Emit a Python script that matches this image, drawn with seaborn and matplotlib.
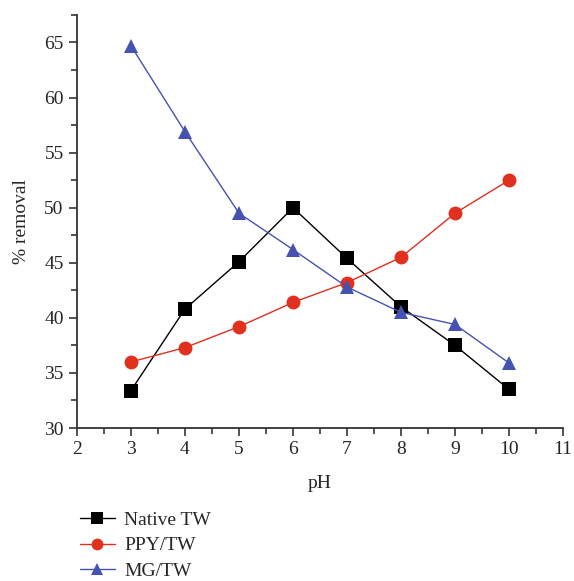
import matplotlib
matplotlib.use("Agg")
import matplotlib.pyplot as plt
from matplotlib.ticker import MultipleLocator
import seaborn as sns
import pandas as pd

# pH values and % removal for each adsorbent
ph = [3, 4, 5, 6, 7, 8, 9, 10]
native_tw = [33.4, 40.8, 45.1, 50.0, 45.4, 41.0, 37.5, 33.5]
ppy_tw = [36.0, 37.3, 39.2, 41.4, 43.2, 45.5, 49.5, 52.5]
mg_tw = [64.7, 56.9, 49.5, 46.2, 42.8, 40.5, 39.4, 35.9]

series_names = ["Native TW", "PPY/TW", "MG/TW"]
colors = {"Native TW": "#000000", "PPY/TW": "#e0301e", "MG/TW": "#4552b0"}
markers = {"Native TW": "s", "PPY/TW": "o", "MG/TW": "^"}

df = pd.concat([
    pd.DataFrame({"pH": ph, "removal": vals, "sample": name})
    for name, vals in zip(series_names, [native_tw, ppy_tw, mg_tw])
])

sns.set_theme(style="ticks")
plt.rcParams["font.family"] = ["Liberation Serif", "DejaVu Serif"]

fig = plt.figure(figsize=(5.74, 5.81), dpi=100)
ax = fig.add_axes([0.134, 0.2633, 0.847, 0.711])

sns.lineplot(data=df, x="pH", y="removal", hue="sample", style="sample",
             hue_order=series_names, style_order=series_names,
             palette=colors, markers=markers, dashes=False,
             markersize=10, linewidth=1.0, markeredgewidth=0,
             ax=ax)

ax.set_xlim(2, 11)
ax.set_ylim(30, 67.5)
ax.xaxis.set_major_locator(MultipleLocator(1))
ax.xaxis.set_minor_locator(MultipleLocator(0.5))
ax.yaxis.set_major_locator(MultipleLocator(5))
ax.yaxis.set_minor_locator(MultipleLocator(2.5))
ax.tick_params(which="major", length=6, width=1.2, labelsize=14, color="#333333")
ax.tick_params(which="minor", length=4, width=1.2, color="#333333")
for side in ("top", "right"):
    ax.spines[side].set_visible(False)
for side in ("left", "bottom"):
    ax.spines[side].set_linewidth(1.3)
    ax.spines[side].set_color("#333333")

ax.set_xlabel("pH", fontsize=14, labelpad=12)
ax.set_ylabel("% removal", fontsize=14, labelpad=10)

handles, labels = ax.get_legend_handles_labels()
for h in handles:
    h.set_markersize(8.5)
ax.legend(handles, labels, loc="upper left", bbox_to_anchor=(0.125, 0.134),
          bbox_transform=fig.transFigure, frameon=False, fontsize=14,
          handlelength=1.8, labelspacing=0.42, handletextpad=0.5,
          borderaxespad=0)

fig.savefig("out.png", dpi=100)
